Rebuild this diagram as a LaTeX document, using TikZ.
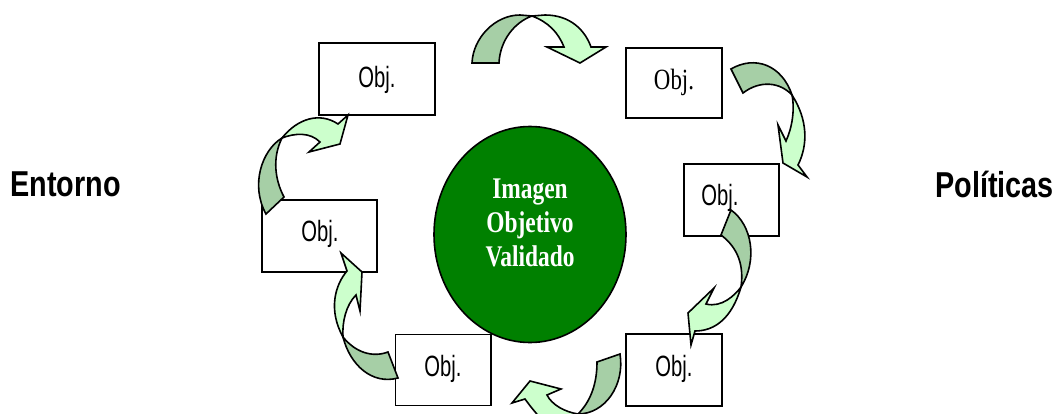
\documentclass[tikz,border=0pt]{standalone}
\usetikzlibrary{shapes.geometric}
\usepackage{fontspec}
\setmainfont{Liberation Serif}
\setsansfont{Liberation Sans}
\definecolor{darkarrow}{HTML}{A6CFA6}
\definecolor{lightarrow}{HTML}{CCFFCC}
\definecolor{ovalgreen}{HTML}{008000}
\tikzset{
  x=0.75pt,y=-0.75pt,
  objbox/.style={draw=black,line width=1.2pt,fill=white,inner sep=0pt,minimum width=#1*0.75pt},
  objtext/.style={font=\sffamily\fontsize{22pt}{24pt}\selectfont,inner sep=0pt,xscale=0.69},
  objserif/.style={font=\rmfamily\fontsize{22pt}{24pt}\selectfont,inner sep=0pt,xscale=0.78},
  sidetext/.style={font=\sffamily\bfseries\fontsize{27pt}{30pt}\selectfont,inner sep=0pt,xscale=0.8},
  ovaltext/.style={text=white,font=\rmfamily\bfseries\fontsize{22.5pt}{25.5pt}\selectfont,inner sep=0pt,xscale=0.78,align=center},
  darkpart/.style={draw=black,line width=1.2pt,fill=darkarrow,line join=miter},
  lightpart/.style={draw=black,line width=1.2pt,fill=lightarrow,line join=miter},
}
\begin{document}
\begin{tikzpicture}
\useasboundingbox (0,0) rectangle (1057,414);
\clip (0,0) rectangle (1057,414);
\fill[white] (0,0) rectangle (1057,414);
% boxes
\node[objbox=116,minimum height=54pt] (b1) at (377,79) {};
\node[objbox=96,minimum height=52.5pt] (b2) at (673.7,83) {};
\node[objbox=95,minimum height=54pt] (b3) at (731.5,200) {};
\node[objbox=96,minimum height=54pt] (b4) at (673.7,370) {};
\node[objbox=95.5,minimum height=53.5pt] (b5) at (443.2,370) {};
\node[objbox=115,minimum height=54pt] (b6) at (319.5,235.7) {};
\node[objtext] (t1) at (377,80) {Obj.};
\node[objserif] (t2) at (674,82) {Obj.};
\node[objtext] (t3) at (720,198) {Obj.};
\node[objtext] (t4) at (674,369) {Obj.};
\node[objtext] (t5) at (443,369) {Obj.};
\node[objtext] (t6) at (320,234) {Obj.};
% oval
\node[draw=black,line width=1.2pt,fill=ovalgreen,ellipse,minimum width=144pt,minimum height=162pt,inner sep=0pt] (oval) at (530,234.5) {};
\node[ovaltext] (ovaltxt) at (530,222.5) {Imagen\\Objetivo\\Validado};
\node[sidetext,anchor=west] (ent) at (10,184) {Entorno};
\node[sidetext,anchor=east] (pol) at (1054,184) {Políticas};
% arrow top
\draw[darkpart] (472,63) .. controls (473,38) and (495,15) .. (520,15) -- (532,16) .. controls (515,22) and (500,40) .. (499,63) -- cycle;
\draw[lightpart] (532,16) .. controls (548,22) and (558,32) .. (564,47) -- (547,47) -- (580,63) -- (606,47) -- (591,47) .. controls (585,30) and (570,15) .. (545,15) -- cycle;
% arrow right top
\draw[darkpart] (731,69) .. controls (755,55) and (782,65) .. (792,95) .. controls (780,82) and (760,80) .. (743,93) -- cycle;
\draw[lightpart] (792,95) .. controls (795,110) and (792,128) .. (786,141) -- (778,125) -- (783,163) -- (807,177) -- (798,165) .. controls (808,145) and (808,120) .. (792,95) -- cycle;
% arrow right
\draw[darkpart] (731,210) .. controls (752,225) and (758,260) .. (741,287) .. controls (744,265) and (738,248) .. (721,235) -- cycle;
\draw[lightpart] (741,287) .. controls (735,295) and (722,308) .. (706,304) -- (714,288) -- (688,313) -- (691,345) -- (695,331) .. controls (715,331) and (732,318) .. (741,287) -- cycle;
% arrow bottom
\draw[darkpart] (620,354) -- (597,362) .. controls (597,385) and (590,402) .. (578,414) .. controls (605,414) and (625,385) .. (620,354) -- cycle;
\draw[lightpart] (578,414) .. controls (565,412) and (552,405) .. (547,395) -- (561,389) -- (530,381) -- (512,403) -- (525,399) .. controls (530,406) and (535,412) .. (542,420) -- (578,420) -- cycle;
% arrow bottom-left
\draw[darkpart] (343,337) .. controls (355,352) and (372,358) .. (388,352) -- (398,378) .. controls (372,385) and (350,365) .. (343,337) -- cycle;
\draw[lightpart] (343,337) .. controls (342,322) and (346,305) .. (356,295) -- (360,311) -- (362,272) -- (341,253) -- (347,271) .. controls (335,285) and (328,310) .. (343,337) -- cycle;
% arrow left
\draw[darkpart] (282,138) .. controls (262,150) and (250,185) .. (266,214) -- (284,197) .. controls (275,180) and (272,158) .. (282,138) -- cycle;
\draw[lightpart] (282,138) .. controls (295,133) and (310,132) .. (320,142) -- (309,152) -- (340,144) -- (348,115) -- (338,124) .. controls (320,112) and (298,118) .. (282,138) -- cycle;
\end{tikzpicture}
\end{document}
